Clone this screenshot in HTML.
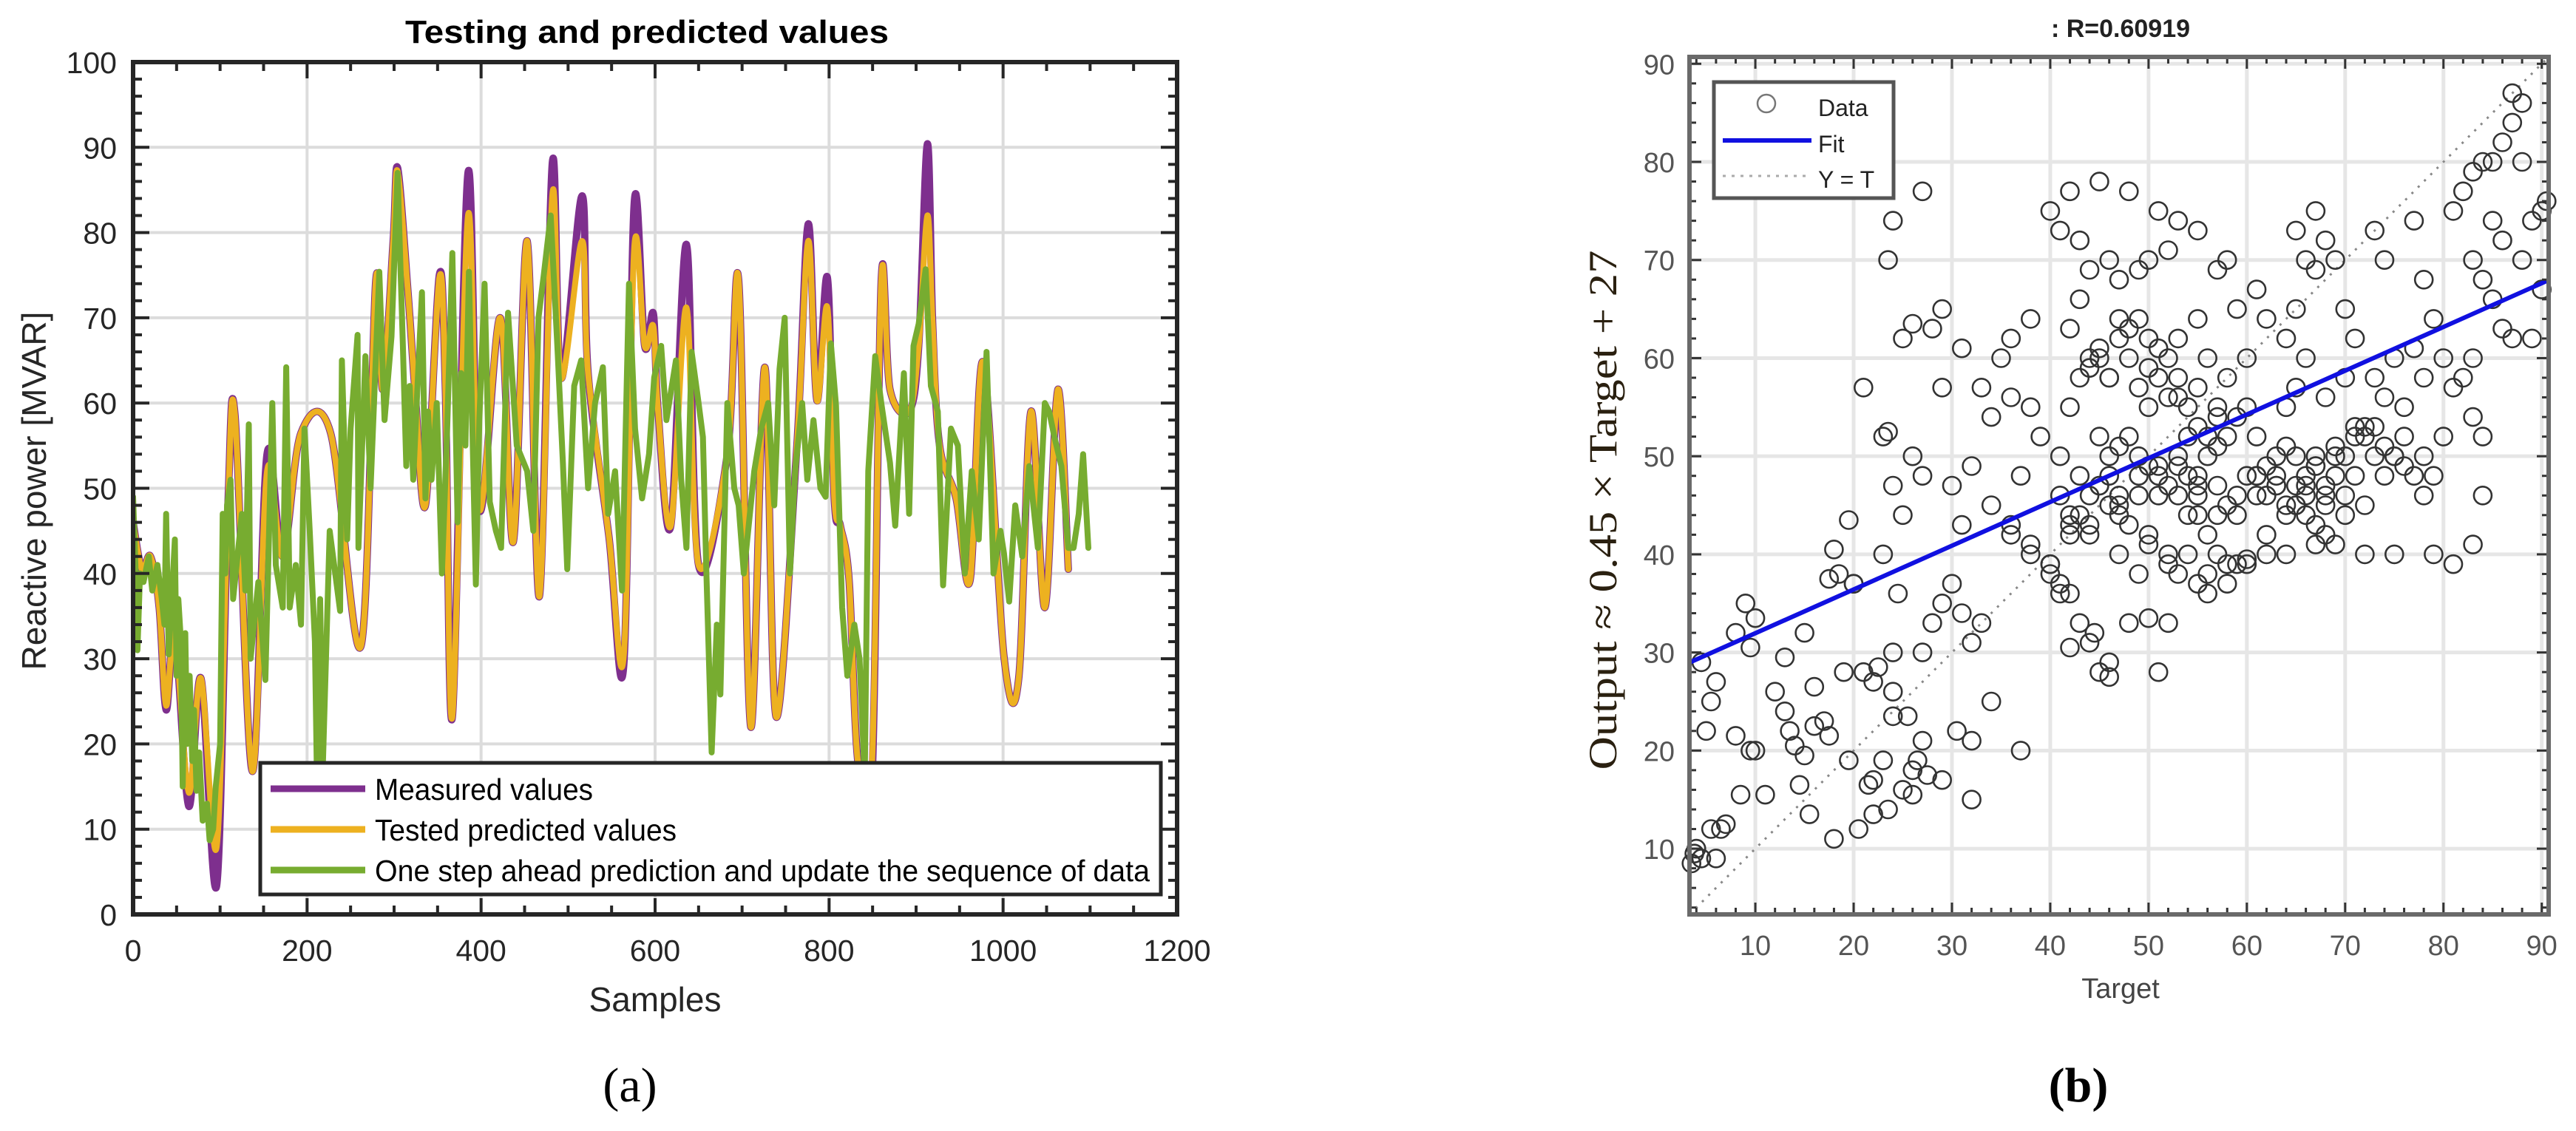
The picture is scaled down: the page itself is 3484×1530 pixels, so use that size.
<!DOCTYPE html>
<html><head><meta charset="utf-8">
<style>
html,body{margin:0;padding:0;background:#fff;}
svg{display:block;}
text{font-family:"Liberation Sans",sans-serif;}
text.serif{font-family:"Liberation Serif",serif;}
</style></head>
<body>
<svg id="fig" width="3484" height="1530" viewBox="0 0 3484 1530" xmlns="http://www.w3.org/2000/svg">
  <g id="left"></g>
  <g id="right"></g>
</svg>
<script>
// ---------- LEFT CHART DATA ----------
const measSamples = [0,10,20,30,38,48,64,78,96,109,117,137,154,172,193,227,262,279,287,299,304,316,324,336,352,359,367,385,398,422,437,453,467,482,492,516,523,547,564,576,588,598,603,618,636,650,683,696,710,726,739,763,776,786,798,806,813,823,833,849,860,870,892,903,913,919,927,946,962,977,1001,1018,1032,1048,1063,1075];
const measValues  = [46,40.5,42,36,24,33,12.7,27.7,3.4,48,58.7,16.8,54,42,56.5,56.5,31.5,74.4,61.6,79,87.6,73,61.6,48,75,61.6,23.2,87,47.5,70,43.7,79,37.3,88.3,62.9,84.3,63.5,44.3,29.3,83.4,66.7,70.5,59.7,45.6,78.6,41,54,74.4,22,64.2,23.2,55,81,60.3,74.7,48.8,45.6,39.2,18,15,74.4,61.6,59,66.7,90.4,69.3,55,48.8,39.2,64.8,30.3,27.7,59,36,61.6,40.5,52];
const testValues  = [46,40.5,42,36,24.5,33,14.3,27.7,7.9,48,58.7,16.8,52,42,56.5,56.5,31.5,74.4,61.6,79,87.2,73,61.6,48,74.7,61.6,23.2,82,47.5,70,43.7,79,37.3,84.6,62.9,79,63.5,44.3,30.3,78.2,66.7,69,59.7,45.6,71.2,41,54,74.4,22,64.2,23.2,55,79,60.3,71.2,48.8,45.6,39.2,18,16.8,74.4,61.6,59,66.7,82,69.3,55,48.8,39.2,64.8,30.3,27.7,59,36,61.6,40.5,49.5];
const greenSamples = [0,3,5,8,12,18,22,28,33,36,38,41,45,48,50,52,55,57,60,62,65,68,70,73,76,80,85,88,92,95,100,103,106,108,112,115,120,125,129,133,135,144,152,160,164,172,176,180,187,193,197,203,209,211,215,218,226,238,240,246,250,258,259,267,273,283,289,297,304,310,314,318,322,326,332,336,339,343,349,355,361,367,373,377,382,386,394,398,404,410,417,423,431,441,453,460,466,472,480,488,494,499,507,515,523,531,540,546,554,562,570,577,585,593,599,607,613,624,630,636,642,650,655,659,665,671,675,683,691,696,702,714,722,730,737,743,749,755,761,769,775,782,790,796,802,808,815,821,829,835,841,845,853,860,870,876,886,892,897,903,911,917,925,931,940,948,956,964,972,981,989,997,1001,1007,1014,1022,1030,1040,1048,1053,1059,1067,1075,1081,1087,1092,1098];
const greenValues  = [49,40,31,40,39,42,38,41,37,34,47,30.5,38,44,28,37,32,15,33,20,28,18,24,14.5,19,11,13,8.7,10,15,20,47,40,48,51,37,42,47,38,57.5,30,39,27.5,60,41,36,64.2,36,41,34,57,45,32,18,37,17,45,35.6,65,44,57,68,43,65.5,50,75.4,58,67.8,87,67,52.6,62,51,60,73,48.8,59,51,60,40,57,77.6,46,63.5,55,75.4,38.7,58,74,48.4,45,43,70.6,55,52,45,70,75,82,66,53,40.5,62,65,50,60,64.2,47,52,38,74,57,48.8,54,63,66.7,58,65,51,43,66,60,56,40,19,34,25.8,60,50,48,40,52,57,60,48,64,70,40,52,60,51,58,50,49,67,59.7,36,28,34,30,16,52,65.5,60,53,45.6,63.5,47,66.7,69.3,75.7,62,59,38.6,57,55,40,52,44,66,40,45,42.4,36.7,48,42,52.6,43,60,59,56,52.6,43,43,47,54,43,47];
const xTicksL = [0,200,400,600,800,1000,1200];
const yTicksL = [0,10,20,30,40,50,60,70,80,90,100];

// ---------- RIGHT CHART DATA ----------
const scTarget = [3.5,3.8,4,4.5,5.5,6,7,6.5,5,6,5.5,4.5,8,10,9.5,8.5,11,8,9,10,9.5,12,13,13.5,14,15,13,15,14.5,15.5,16,17,17.5,18,16,19,18.5,19.5,20.5,21,22,22.5,21.5,22,23.5,22,23,24,25.5,24,23,20,21,19.5,20,18,17.5,24,25,26,26.5,27,26,27.5,29,30.5,32,32,37,34,24,23.5,27,23,23.5,25,26,29,28,31,29,27,26,25,24,24.5,27,28,29,30,31,33,32,31,30,32,34,33,35,36,38,36,38,37,39,40,41,42,43,45,48,51,53,55,57,58,59,52,49,50,46,44,47,43,42,44,45,46,43,42,41,43,45,46,44,42,41,40,41,42,43,44,45,46,46,44.5,42,48,50,52,51,49,47,50,52,53,55,56,57,58,55,54,56,58,57,55,53,52,50,48,47,49,51,50,48,46,47,49,51,53,55,56,54,53,55,56,58,59,60,61,60,62,61,60,61,62,59,58,62,63,64,65,66,64,65,66,67,67,65,68,69,70,71,70,68,67,66,68,69,70,72,73,71,72,70,68,66,64,65,74,75,76,74,73,75,77,78,76,77,78,79,80,81,82,80,79,83,78,74,73,77,81,82,83,84,85,86,87,88,87,88,85,86,84,83,85,87,86,89,89,90,90.5,90,88,84,83,84,83,81,79,75,72,67,64,59,60,44,47,50,52,54,57,63,65,67,69,71,
 44,45,46,47,48,49,50,51,52,53,54,55,56,57,45,47,49,51,53,55,57,41,43,45,47,49,51,53,55,57,59,61,63,65,67,69,61,63,65,67,69,71,73,75,62,64,66,68,70,72,74,76,78,36,38,40,42,34,36,38,40,42,44,46,48,50,52,54,56,58,60,62,64,66,68];
const scOutput = [8.5,9.5,10,9,12,9,12.5,12,22,27,25,29,21.5,20,20,15.5,15.5,32,35,33.5,30.5,26,24,22,20.5,19.5,29.5,32,16.5,13.5,22.5,23,21.5,11,26.5,28,38,19,12,28,27,28.5,16.5,13.5,14,17,19,23.5,23.5,26,40,37,57,43.5,37,40.5,37.5,30,16,15.5,19,21,18,17.5,17,22,21,15,20,25,74,70,77,52,52.5,62,63.5,65,63,61,57,48,50,44,47,36,30,33,35,37,34,33,31,43,47,49,54,57,60,62,64,56,55,48,52,75,73,77,72,78,77,75,74,73,69,70,65,71,69,70,70,69,68,66,63,60,60,58,58,55,50,48,47,45,43,42,37,38,36,36,33,31,28,29,27.5,32,30.5,33,33.5,33,28,38,40,42,40,38,37,36,40,45,46,48,50,52,55,57,56,60,62,63,64,64,58,55,52,50,46,46,48,46,44,42,52,62,64,60,58,54,55,52,60,64,67,48,46,46,44,39,40,48,55,57,60,62,65,70,69,75,73,72,70,65,62,58,56,50,47,46,48,50,52,50,48,45,44,42,44,45,50,48,50,52,56,58,60,61,58,55,48,46,48,52,57,58,60,64,60,68,70,73,74,75,77,79,80,80,82,84,86,87,80,74,72,68,70,66,62,63,62,74,75,76,67,70,52,54,46,41,39,40,40,40,41,40,39,39.5,46,44,49,47,44,51,47,45,43,41,53,
 59,61,58,62,60,57,59,61,56,58,55,53,52,54,52,51,50,49,50,48,47,46,44,47,45,48,46,49,47,44,46,48,47,45,49,50,48,50,47,49,51,52,53,50,49,51,48,47,46,53,51,49,50,42,40,39,43,45,43,41,39,44,42,48,43,41,39,40,38,37,39,42,44,46,45,43];
const xTicksR = [10,20,30,40,50,60,70,80,90];
const yTicksR = [10,20,30,40,50,60,70,80,90];
const fitSlope = [0.446];
const fitIntercept = [27.5];

const NS='http://www.w3.org/2000/svg';
function mk(parent, tag, attrs){
  const e=document.createElementNS(NS,tag);
  for(const k in attrs) e.setAttribute(k, attrs[k]);
  parent.appendChild(e); return e;
}
function smoothPath(pts){
  let d='M'+pts[0][0].toFixed(1)+' '+pts[0][1].toFixed(1);
  for(let i=0;i<pts.length-1;i++){
    const p0=pts[Math.max(0,i-1)],p1=pts[i],p2=pts[i+1],p3=pts[Math.min(pts.length-1,i+2)];
    const c1x=p1[0]+(p2[0]-p0[0])/6,c1y=p1[1]+(p2[1]-p0[1])/6;
    const c2x=p2[0]-(p3[0]-p1[0])/6,c2y=p2[1]-(p3[1]-p1[1])/6;
    d+=' C'+c1x.toFixed(1)+' '+c1y.toFixed(1)+' '+c2x.toFixed(1)+' '+c2y.toFixed(1)+' '+p2[0].toFixed(1)+' '+p2[1].toFixed(1);
  }
  return d;
}

// ================= LEFT =================
(function(){
  const g=document.getElementById('left');
  const X0=180,X1=1592,Y0=1237,Y1=84;
  const sx=v=>X0+(v-0)/1200*(X1-X0);
  const sy=v=>Y0-(v-0)/100*(Y0-Y1);
  const defs=mk(g,'defs',{});
  const cp=mk(defs,'clipPath',{id:'clipL'});
  mk(cp,'rect',{x:X0,y:Y1,width:X1-X0,height:Y0-Y1});
  xTicksL.forEach(t=>{ if(t>0&&t<1200){const l=mk(g,'line',{x1:sx(t),x2:sx(t),y1:Y1,y2:Y0,stroke:'#dcdcdc','stroke-width':4});
     }});
  yTicksL.forEach(t=>{ if(t>0&&t<100){const l=mk(g,'line',{x1:X0,x2:X1,y1:sy(t),y2:sy(t),stroke:'#dcdcdc','stroke-width':4});
     }});
  const sg=mk(g,'g',{'clip-path':'url(#clipL)'});
  function series(xs,ys,color,w,name,smooth){
    const pts=xs.map((x,i)=>[sx(x),sy(ys[i])]);
    const d=smooth?smoothPath(pts):pts.map((p,i)=>(i?'L':'M')+p[0].toFixed(1)+' '+p[1].toFixed(1)).join(' ');
    const p=mk(sg,'path',{d:d,fill:'none',stroke:color,'stroke-width':w,'stroke-linejoin':'round','stroke-linecap':'round'});
    
    
  }
  series(measSamples,measValues,'#7e2f8e',10,'measured-values-line',true);
  series(measSamples,testValues,'#edb120',8,'tested-predicted-line',true);
  series(greenSamples,greenValues,'#77ac30',8,'one-step-prediction-line',false);
  for(let t=0;t<=1200;t+=50){const len=(t%200===0)?22:12;
    mk(g,'line',{x1:sx(t),x2:sx(t),y1:Y0,y2:Y0-len,stroke:'#262626','stroke-width':4});
    mk(g,'line',{x1:sx(t),x2:sx(t),y1:Y1,y2:Y1+len,stroke:'#262626','stroke-width':4});}
  for(let t=0;t<=100;t+=2){const len=(t%10===0)?22:12;
    mk(g,'line',{x1:X0,x2:X0+len,y1:sy(t),y2:sy(t),stroke:'#262626','stroke-width':4});
    mk(g,'line',{x1:X1,x2:X1-len,y1:sy(t),y2:sy(t),stroke:'#262626','stroke-width':4});}
  const fr=mk(g,'rect',{x:X0,y:Y1,width:X1-X0,height:Y0-Y1,fill:'none',stroke:'#262626','stroke-width':6});
   
  xTicksL.forEach(t=>{const tx=mk(g,'text',{x:sx(t),y:1300,'font-size':41,fill:'#262626','text-anchor':'middle'});tx.textContent=t;
     });
  yTicksL.forEach(t=>{const tx=mk(g,'text',{x:158,y:sy(t)+15,'font-size':41,fill:'#262626','text-anchor':'end'});tx.textContent=t;
     });
  const lg=mk(g,'g',{});  
  mk(lg,'rect',{x:352,y:1032,width:1218,height:178,fill:'#fff',stroke:'#262626','stroke-width':5});
  const ent=[['Measured values','#7e2f8e',1067,295,'legend-entry-measured'],['Tested predicted values','#edb120',1122,408,'legend-entry-tested'],['One step ahead prediction and update the sequence of  data','#77ac30',1177,1048,'legend-entry-one-step']];
  ent.forEach(e=>{
    const eg=mk(lg,'g',{});
    
    
    mk(eg,'line',{x1:366,x2:494,y1:e[2],y2:e[2],stroke:e[1],'stroke-width':9});
    const t=mk(eg,'text',{x:507,y:e[2]+15,'font-size':41,fill:'#000',textLength:e[3],lengthAdjust:'spacingAndGlyphs','xml:space':'preserve'});
    t.textContent=e[0];
  });
})();

// ================= RIGHT =================
(function(){
  const g=document.getElementById('right');
  const X0=2285,X1=3447,Y0=1237,Y1=77;
  const xmin=3.3,xmax=90.7,ymin=3.3,ymax=90.7;
  const sx=v=>X0+(v-xmin)/(xmax-xmin)*(X1-X0);
  const sy=v=>Y0-(v-ymin)/(ymax-ymin)*(Y0-Y1);
  xTicksR.forEach(t=>{const l=mk(g,'line',{x1:sx(t),x2:sx(t),y1:Y1,y2:Y0,stroke:'#e6e6e6','stroke-width':5});
     });
  yTicksR.forEach(t=>{const l=mk(g,'line',{x1:X0,x2:X1,y1:sy(t),y2:sy(t),stroke:'#e6e6e6','stroke-width':5});
     });
  const yt=mk(g,'line',{x1:sx(xmin),y1:sy(xmin),x2:sx(xmax),y2:sy(xmax),stroke:'#888','stroke-width':3,'stroke-dasharray':'3 9'});
   
  const pg=mk(g,'g',{});  
  scTarget.forEach((t,i)=>{
    const c=mk(pg,'circle',{cx:sx(t).toFixed(1),cy:sy(scOutput[i]).toFixed(1),r:12,fill:'none',stroke:'#333','stroke-width':2.6});
    
    
  });
  const fl=mk(g,'line',{x1:sx(xmin),y1:sy(fitSlope[0]*xmin+fitIntercept[0]),x2:sx(xmax),y2:sy(fitSlope[0]*xmax+fitIntercept[0]),stroke:'#1010e0','stroke-width':6});
   
  for(let t=4;t<=90;t+=2){const len=(t%10===0)?16:9;
    mk(g,'line',{x1:sx(t),x2:sx(t),y1:Y0,y2:Y0-len,stroke:'#333','stroke-width':3});
    mk(g,'line',{x1:sx(t),x2:sx(t),y1:Y1,y2:Y1+len,stroke:'#333','stroke-width':3});
    mk(g,'line',{x1:X0,x2:X0+len,y1:sy(t),y2:sy(t),stroke:'#333','stroke-width':3});
    mk(g,'line',{x1:X1,x2:X1-len,y1:sy(t),y2:sy(t),stroke:'#333','stroke-width':3});}
  const fr=mk(g,'rect',{x:X0,y:Y1,width:X1-X0,height:Y0-Y1,fill:'none',stroke:'#6a6a6a','stroke-width':6});
   
  xTicksR.forEach(t=>{const tx=mk(g,'text',{x:sx(t),y:1292,'font-size':38,fill:'#555','text-anchor':'middle'});tx.textContent=t;
     });
  yTicksR.forEach(t=>{const tx=mk(g,'text',{x:2265,y:sy(t)+14,'font-size':38,fill:'#555','text-anchor':'end'});tx.textContent=t;
     });
  const lg=mk(g,'g',{});  
  mk(lg,'rect',{x:2318,y:111,width:243,height:157,fill:'#fff',stroke:'#555','stroke-width':5});
  mk(lg,'circle',{cx:2389,cy:140,r:12,fill:'none',stroke:'#777','stroke-width':2.5});
  mk(lg,'line',{x1:2330,x2:2450,y1:190,y2:190,stroke:'#1010e0','stroke-width':6});
  mk(lg,'line',{x1:2330,x2:2445,y1:238,y2:238,stroke:'#aaa','stroke-width':3,'stroke-dasharray':'4 8'});
  [['Data',157],['Fit',206],['Y = T',254]].forEach(e=>{const t=mk(lg,'text',{x:2459,y:e[1],'font-size':32,fill:'#222'});t.textContent=e[0];
     });
})();

(function(){
  const s=document.getElementById('fig');
  function t(txt,attrs,name,cls){const e=document.createElementNS(NS,'text');for(const k in attrs)e.setAttribute(k,attrs[k]);e.textContent=txt;
    if(cls) e.setAttribute('class',cls);
    
    
    s.appendChild(e);}
  t('Testing and predicted values',{x:875,y:58,'font-size':44,'font-weight':'bold','text-anchor':'middle',textLength:654,lengthAdjust:'spacingAndGlyphs',fill:'#000'},'left-chart-title');
  t('Reactive power [MVAR]',{x:0,y:0,'font-size':46,'text-anchor':'middle',fill:'#262626',transform:'translate(62,664) rotate(-90)'},'left-y-axis-title');
  t('Samples',{x:886,y:1368,'font-size':46,'text-anchor':'middle',fill:'#262626'},'left-x-axis-title');
  t('(a)',{x:852,y:1490,'font-size':66,'text-anchor':'middle',fill:'#000'},'panel-a-label','serif');
  t(': R=0.60919',{x:2868,y:50,'font-size':34,'font-weight':'bold','text-anchor':'middle',fill:'#222'},'right-chart-title');
  t('Target',{x:2868,y:1350,'font-size':38,'text-anchor':'middle',fill:'#444'},'right-x-axis-title');
  t('Output ≈ 0.45 × Target + 27',{x:0,y:0,'font-size':54,'text-anchor':'middle',fill:'#2a2010',textLength:703,lengthAdjust:'spacingAndGlyphs',transform:'translate(2186,690) rotate(-90)'},'right-y-axis-title','serif');
  t('(b)',{x:2811,y:1490,'font-size':66,'text-anchor':'middle',fill:'#000','font-weight':'bold'},'panel-b-label','serif');
})();
</script>
</body></html>
